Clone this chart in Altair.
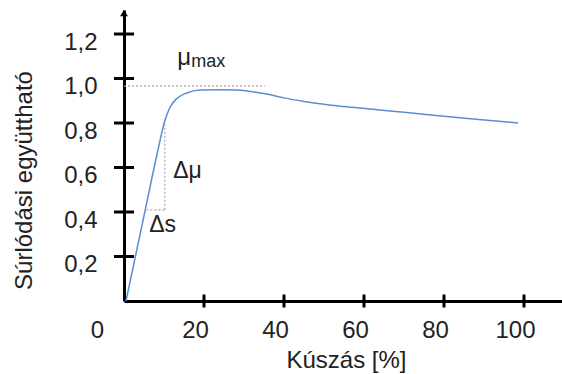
import altair as alt
import pandas as pd

# curve: slip [%] vs friction coefficient
slip = [0.5, 5.2, 8.5, 10.2, 11.5, 13.2, 15.7, 19, 24, 28, 32, 36, 40, 45, 50, 55, 61.5, 70, 78, 88, 98.5]
mu = [0, 0.40, 0.68, 0.81, 0.87, 0.91, 0.935, 0.948, 0.95, 0.948, 0.941, 0.929, 0.913, 0.897, 0.884, 0.874, 0.863, 0.848, 0.834, 0.817, 0.80]

x_ticks = [20, 40, 60, 80, 100]
x_label_values = [0, 20, 40, 60, 80, 100]
y_ticks = [0.2, 0.4, 0.6, 0.8, 1.0, 1.2]

# dotted helper lines (mu_max level, delta mu, delta s)
seg_x1 = [0, 10.2, 5.6]
seg_x2 = [35.2, 10.2, 10.2]
seg_y1 = [0.966, 0.41, 0.41]
seg_y2 = [0.966, 0.80, 0.41]

# annotations
ann_text = ["μ", "max", "Δμ", "Δs"]
ann_x = [13.3, 16.8, 12.3, 6.3]
ann_y = [1.061, 1.052, 0.553, 0.31]
ann_size = [24, 18, 23, 23]

X_MAX = 109.5
Y_MAX = 1.308
FONT = "Liberation Sans"
TXT = "#222222"

xs = alt.Scale(domain=[0, X_MAX], nice=False, zero=False)
ys = alt.Scale(domain=[0, Y_MAX], nice=False, zero=False)

curve_df = pd.DataFrame({"s": slip, "mu": mu})
seg_df = pd.DataFrame({"x1": seg_x1, "x2": seg_x2, "y1": seg_y1, "y2": seg_y2})
ann_df = pd.DataFrame({"t": ann_text, "x": ann_x, "y": ann_y, "fs": ann_size})
xt_df = pd.DataFrame({"v": x_ticks})
yt_df = pd.DataFrame({"v": y_ticks})

x_axis = alt.Axis(
    values=x_label_values, format="d", grid=False, ticks=False,
    domainColor="black", domainWidth=3,
    labelFont=FONT, labelFontSize=24, labelColor=TXT,
    labelBaseline="alphabetic", labelPadding=36, labelFlush=False,
    labelOffset={"condition": {"test": "datum.value === 0", "value": -27}, "value": -9},
    title="Kúszás [%]", titleFont=FONT, titleFontSize=24, titleFontWeight="normal",
    titleColor=TXT, titleBaseline="alphabetic", titleAlign="center",
    titleX=222, titleY=66,
)
y_axis = alt.Axis(
    values=y_ticks, format=".1f", labelExpr="replace(datum.label, '.', ',')",
    grid=False, ticks=False, domainColor="black", domainWidth=3,
    labelFont=FONT, labelFontSize=24, labelColor=TXT,
    labelBaseline="middle", labelPadding=27, labelOffset=8, labelFlush=False,
    title="Súrlódási együttható", titleFont=FONT, titleFontSize=24,
    titleFontWeight="normal", titleColor=TXT, titleAngle=270,
    titleBaseline="alphabetic", titleAlign="center", titleX=-93, titleY=170,
)

line = alt.Chart(curve_df).mark_line(
    color="#5a8ed0", strokeWidth=1.5, interpolate="monotone"
).encode(
    x=alt.X("s:Q", scale=xs, axis=x_axis),
    y=alt.Y("mu:Q", scale=ys, axis=y_axis),
)

guides = alt.Chart(seg_df).mark_rule(
    color="#a6a6a6", strokeWidth=1.2, strokeDash=[2, 2]
).encode(
    x=alt.X("x1:Q", scale=xs, axis=x_axis),
    x2="x2:Q",
    y=alt.Y("y1:Q", scale=ys, axis=y_axis),
    y2="y2:Q",
)

xticks = alt.Chart(xt_df).mark_tick(
    orient="vertical", color="black", size=13, thickness=3, opacity=1
).encode(
    x=alt.X("v:Q", scale=xs, axis=x_axis),
    y=alt.YDatum(0, scale=ys, axis=y_axis),
)

yticks = alt.Chart(yt_df).mark_tick(
    orient="horizontal", color="black", size=20, thickness=3, opacity=1
).encode(
    y=alt.Y("v:Q", scale=ys, axis=y_axis),
    x=alt.XDatum(0, scale=xs, axis=x_axis),
)

arrow = alt.Chart(pd.DataFrame({"a": [0]})).mark_point(
    shape="triangle-up", filled=True, color="black", opacity=1, size=60, yOffset=3
).encode(
    x=alt.XDatum(0, scale=xs, axis=x_axis),
    y=alt.YDatum(Y_MAX, scale=ys, axis=y_axis),
)

texts = alt.Chart(ann_df).mark_text(
    font=FONT, color=TXT, align="left", baseline="alphabetic"
).encode(
    x=alt.X("x:Q", scale=xs, axis=x_axis),
    y=alt.Y("y:Q", scale=ys, axis=y_axis),
    text="t:N",
    size=alt.Size("fs:Q", scale=None, legend=None),
)

chart = alt.layer(guides, line, xticks, yticks, arrow, texts).properties(
    width=438, height=291,
    padding={"left": 124, "top": 10, "right": 0, "bottom": 73},
    autosize=alt.AutoSizeParams(type="none"),
    background="white",
).configure_view(stroke=None)

chart.save("out.html", embed_options={"renderer": "svg", "actions": False})
